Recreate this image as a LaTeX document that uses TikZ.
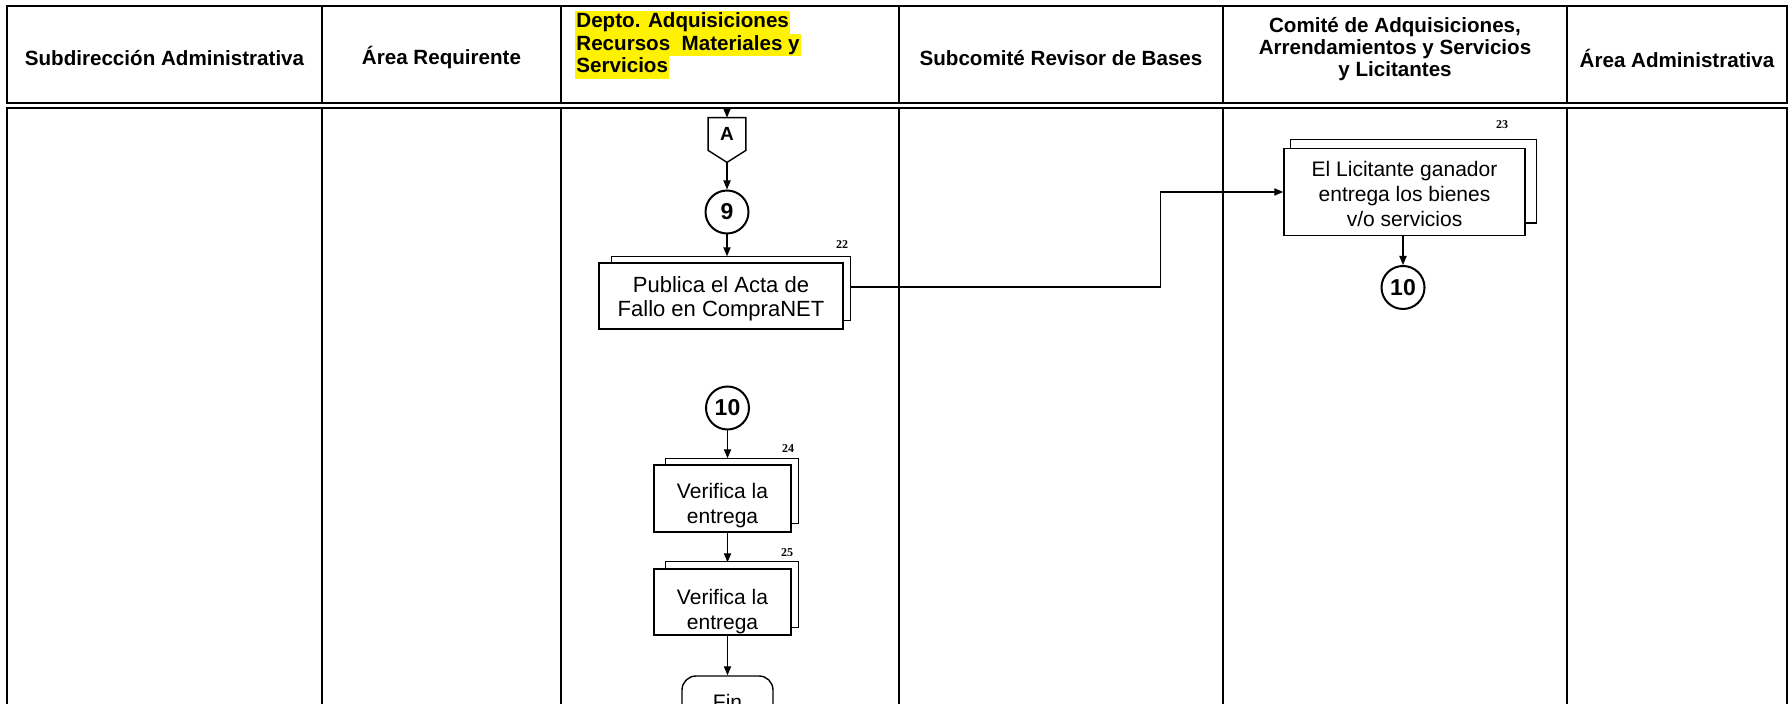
\documentclass[tikz,border=0pt]{standalone}
\usepackage{fontspec}
\setmainfont{Liberation Sans}
\newfontfamily\numfont{Liberation Serif}
\usetikzlibrary{arrows.meta,calc,backgrounds}
\tikzset{
  lane/.style={line width=1.3pt},
  hdr/.style={font=\bfseries\fontsize{10.3}{10.9}\selectfont, align=center, inner sep=0},
  hl/.style={fill=yellow, anchor=west, inner xsep=0.5pt, inner ysep=0, text height=8.3pt, text depth=3pt,
     font=\bfseries\fontsize{10.3}{10.9}\selectfont},
  proc/.style={draw, fill=white, line width=0.7pt, inner sep=0},
  ptext/.style={align=center, inner sep=0, font=\fontsize{10.5}{12.5}\selectfont},
  back/.style={draw, fill=white, line width=0.7pt},
  conn/.style={circle, draw, line width=1pt, minimum size=21.5pt, inner sep=0,
     font=\bfseries\fontsize{11.5}{11.5}\selectfont},
  arr/.style={line width=0.65pt, -{Triangle[length=4.5pt,width=3.6pt]}},
  num/.style={font=\numfont\bfseries\fontsize{6}{6}\selectfont, inner sep=0},
}
\begin{document}
\begin{tikzpicture}[x=0.5pt, y=-0.5pt]
\useasboundingbox (0,0) rectangle (1792,704);
\clip (0,0) rectangle (1792,704);
% header
\draw[lane] (7,6) rectangle (1787,103);
\foreach \x in {322,561,899,1223,1567} \draw[lane] (\x,6) -- (\x,103);
% body
\draw[lane] (7,720) -- (7,108) -- (1787,108) -- (1787,720);
\foreach \x in {322,561,899,1223,1567} \draw[lane] (\x,108) -- (\x,720);

\node[hdr] (h1) at (164.5,58) {Subdirección Administrativa};
\node[hdr] (h2) at (441.5,58) {Área Requirente};
\node[hl] (h3a) at (575,22.5) {Depto. Adquisiciones};
\node[hl] (h3b) at (575,45.1) {Recursos\ \ Materiales y };
\node[hl] (h3c) at (575,67.7) {Servicios};
\node[hdr] (h4) at (1061,58) {Subcomité Revisor de Bases};
\node[hdr] (h5) at (1395,49) {Comité de Adquisiciones,\\Arrendamientos y Servicios\\y Licitantes};
\node[hdr] (h6) at (1677,58) {Área Administrativa};

% off-page connector A
\coordinate (Astart) at (727,108);
\node[font=\bfseries\fontsize{9.5}{9.5}\selectfont, minimum width=18.5pt, minimum height=16pt, inner sep=0] (A) at (727,134) {A};
\coordinate (Atip) at ($(A.south)+(0,12)$);
\draw[line width=0.7pt] (A.north west) -- (A.north east) -- (A.south east) -- (Atip) -- (A.south west) -- cycle;
\draw[arr] (Astart) -- (A.north);

\node[conn] (c9) at (727,212) {9};
\draw[arr] (Atip) -- (Atip |- c9.north);

\node[proc, minimum width=122pt, minimum height=33pt,
  label={[ptext, yshift=-1.5pt, font=\fontsize{11}{12}\selectfont]center:{Publica el Acta de\\Fallo en CompraNET}}] (b22) at (721,296) {};
\node[num] (n22) at (842,245) {22};
\draw[arr] (c9.south) -- ($(c9.south |- b22.north)+(0,-6)$);

\node[proc, minimum width=120.5pt, minimum height=43.5pt,
  label={[ptext, yshift=-1.1pt]center:{El Licitante ganador\\entrega los bienes\\v/o servicios}}] (b23) at (1404.5,192) {};
\node[num] (n23) at (1502,125) {23};
\coordinate (b22out) at ($(b22.east)+(7,-9)$);
\draw[arr] (b22out) -- ++(310,0) |- (b23.west);

\node[conn] (c10a) at (1403,287.5) {10};
\draw[arr] (b23.south -| c10a.north) -- (c10a.north);

\node[conn] (c10b) at (727.5,408) {10};
\node[proc, minimum width=68.5pt, minimum height=33.5pt,
  label={[ptext, yshift=-3.4pt]center:{Verifica la\\entrega}}] (b24) at (722.5,498.5) {};
\node[num] (n24) at (788,449) {24};
\draw[arr] (c10b.south) -- ($(c10b.south |- b24.north)+(0,-6)$);

\node[proc, minimum width=68.5pt, minimum height=33pt,
  label={[ptext, yshift=-4.7pt]center:{Verifica la\\entrega}}] (b25) at (722.5,602) {};
\node[num] (n25) at (787,553) {25};
\draw[arr] (c10b.south |- b24.south) -- ($(c10b.south |- b25.north)+(0,-6)$);

\node[draw, line width=0.7pt, rounded corners=7pt, minimum width=45.5pt, minimum height=26pt,
  font=\fontsize{10.5}{10.5}\selectfont] (fin) at (727.5,702) {Fin};
\draw[arr] (c10b.south |- b25.south) -- (c10b.south |- fin.north);

\begin{scope}[on background layer]
\draw[back] ($(b22.north west)+(13,-6)$) rectangle ($(b22.south east)+(7,-9)$);
\draw[back] ($(b23.north west)+(7,-8)$) rectangle ($(b23.south east)+(11,-13)$);
\draw[back] ($(b24.north west)+(12,-6)$) rectangle ($(b24.south east)+(7,-9)$);
\draw[back] ($(b25.north west)+(12,-7)$) rectangle ($(b25.south east)+(7,-8)$);
\end{scope}
\end{tikzpicture}
\end{document}
